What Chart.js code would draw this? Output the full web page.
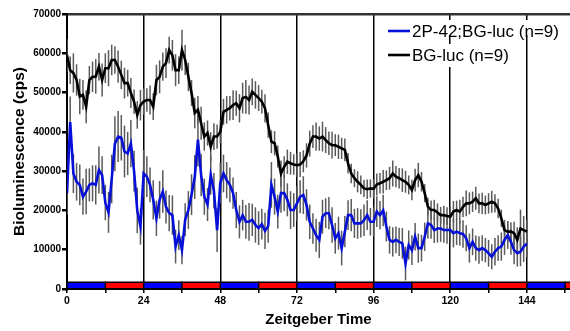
<!DOCTYPE html>
<html>
<head>
<meta charset="utf-8">
<script src="https://cdn.jsdelivr.net/npm/chart.js@4.4.1/dist/chart.umd.min.js"></script>
<style>
html, body { margin: 0; padding: 0; background: #fff; }
#wrap { width: 570px; height: 331px; }
</style>
</head>
<body>
<div id="wrap"><canvas id="c" width="570" height="331"></canvas></div>
<script>
// ===== data: hourly mean + SEM, ZT0 .. ZT144 =====
var blueLabel = "2P-42;BG-luc (n=9)";
var blackLabel = "BG-luc (n=9)";

var blueMean = [
    24400, 42500, 29400, 27300, 26500, 23500, 24800, 26500, 26900, 26500, 30300, 29000,
    22000, 19500, 28000, 37000, 38800, 38500, 35000, 34500, 37000, 30000, 20000, 15900,
    29400, 28600, 26500, 22700, 18000, 22700, 24800, 20900, 19300, 18800, 10800, 13700,
    9900, 17600, 20100, 24000, 28500, 38000, 29000, 23500, 21500, 29000, 25000, 15000,
    27000, 29400, 27700, 26500, 24400, 20100, 17100, 18800, 17100, 17100, 17600, 16300,
    15500, 16500, 14800, 16000, 26500, 23500, 19700, 24400, 24400, 22700, 20100, 20100,
    21800, 23500, 23900, 21400, 17100, 15400, 13700, 12500, 18400, 19300, 19300, 16300,
    12900, 14200, 10400, 14600, 18800, 18800, 16700, 16700, 16700, 17500, 18800, 17100,
    17100, 19700, 18800, 20000, 15900, 12500, 12000, 12500, 12000, 11600, 6500, 11200,
    9900, 13300, 10400, 10400, 13300, 16700, 16300, 15000, 15400, 15400, 15000, 15000,
    15000, 14200, 14600, 14200, 14000, 12900, 10400, 12000, 10400, 9900, 10400, 9900,
    9100, 8200, 9500, 10400, 10800, 12500, 13700, 12000, 9900, 9100, 9500, 10800,
    11500
];
var blueSem = [
    5500, 6500, 5000, 4800, 5200, 4600, 5800, 4200, 4600, 5000, 6000, 4800,
    4500, 5200, 6200, 7000, 6500, 5800, 6600, 5500, 6000, 5200, 5800, 4600,
    6000, 5200, 4400, 5000, 4500, 4800, 5400, 4200, 4600, 5000, 4300, 3800,
    3600, 4200, 4800, 5200, 5600, 6800, 5400, 4600, 4200, 5000, 4500, 5600,
    5200, 4800, 4600, 4400, 4000, 4600, 4200, 3900, 4300, 4800, 4100, 4500,
    4300, 3900, 4600, 4200, 5800, 4600, 4300, 5000, 4600, 4200, 4800, 4300,
    4500, 4200, 4800, 4000, 4400, 3900, 4200, 4600, 4300, 3800, 4100, 4500,
    3900, 4200, 4400, 4000, 3800, 4100, 3700, 3900, 3600, 4000, 3800, 3500,
    3700, 3900, 3600, 4000, 3800, 3500, 3700, 3400, 3600, 3900, 4300, 3700,
    3800, 3500, 3700, 3400, 3600, 3900, 3500, 3300, 3600, 3400, 3200, 3500,
    3300, 3600, 3400, 3200, 3500, 3300, 3700, 3400, 3200, 3500, 3300, 3100,
    3400, 3200, 3500, 3300, 3600, 3800, 3500, 3300, 3600, 3400, 3700, 3900,
    3500
];
var blackMean = [
    59500, 55700, 55000, 53200, 49000, 49400, 46400, 53200, 54000, 54100, 56600, 53200,
    56200, 56200, 58300, 58300, 56600, 54500, 52400, 52400, 49900, 47700, 44300, 46800,
    47700, 48100, 48100, 46400, 53200, 54000, 56600, 57500, 60800, 59500, 55700, 55700,
    60800, 58300, 54000, 49900, 44800, 45600, 42200, 38800, 39700, 36200, 38800, 38800,
    40000, 45100, 45600, 46000, 46800, 47300, 46000, 48600, 48900, 48100, 50200, 49400,
    48600, 47700, 46000, 41700, 37500, 37100, 33700, 29400, 31100, 32400, 32000, 31700,
    31500, 31700, 32500, 34000, 37000, 38800, 38800, 38300, 38800, 37900, 37100, 36600,
    36600, 36200, 35800, 35400, 32000, 29400, 28200, 27300, 26500, 25600, 25400, 25600,
    25500, 26600, 26900, 27300, 27700, 28200, 29400, 28600, 28200, 27700, 27300, 26500,
    25200, 27700, 29000, 27300, 24400, 21000, 20100, 20100, 19500, 18800, 18800, 18600,
    18400, 19700, 20100, 19700, 20900, 21800, 21800, 22200, 23100, 21800, 21800, 21400,
    21800, 22200, 21800, 20500, 18000, 15000, 14600, 14600, 14200, 12500, 15400, 15000,
    14600
];
var blackSem = [
    4200, 3500, 5000, 4000, 4500, 3800, 4200, 3600, 3900, 4400, 3500, 4200,
    3800, 4600, 3900, 3500, 4100, 3600, 3900, 3400, 3800, 3100, 3500, 3900,
    3300, 3000, 3700, 3400, 3900, 4200, 3600, 3800, 3400, 3900, 4100, 3500,
    5200, 3800, 3600, 3300, 3900, 3500, 4200, 3600, 3200, 3700, 3400, 3100,
    2900, 3300, 3500, 3100, 3800, 3200, 3600, 3900, 4300, 3700, 3400, 3500,
    3300, 3000, 3600, 3200, 2900, 3100, 2800, 3300, 2700, 3100, 2900, 2600,
    3000, 3200, 2800, 3100, 3300, 2900, 3600, 3100, 3800, 3300, 3000, 3400,
    2800, 3100, 2700, 2900, 2600, 2500, 2300, 2700, 2400, 2200, 2500, 2300,
    2400, 2800, 2600, 3000, 2500, 2900, 3300, 2700, 2600, 3000, 2800, 2400,
    2600, 2900, 3100, 2500, 2300, 2200, 2400, 2600, 2300, 2100, 2400, 2200,
    2500, 2700, 2400, 3000, 2600, 3300, 2800, 2600, 2900, 2500, 2700, 2400,
    2600, 2800, 2300, 2500, 2200, 2600, 2700, 2400, 2900, 3200, 4800, 3600,
    3000
];

// light/dark bar, 12 h blocks starting at ZT0
var ldBlocks = ['L', 'D', 'L', 'D', 'L', 'D', 'L', 'D', 'L', 'D', 'L', 'D', 'L', 'D'];
var ldHours = 12;

var xMin = 0, xMax = 157.5;
var yMin = 0, yMax = 70000;

function toPoints(arr) {
    return arr.map(function(v, i) { return { x: i, y: v }; });
}

// ===== plugins =====
var errorBars = {
    id: 'errorBars',
    beforeDatasetsDraw: function(chart) {
        var ctx = chart.ctx, xs = chart.scales.x, ys = chart.scales.y, a = chart.chartArea;
        ctx.save();
        ctx.beginPath();
        ctx.rect(a.left, a.top, a.right - a.left, a.bottom - a.top);
        ctx.clip();
        ctx.strokeStyle = '#5a5a5a';
        ctx.lineWidth = 1.5;
        chart.data.datasets.forEach(function(ds) {
            ds.mean.forEach(function(m, i) {
                var x = xs.getPixelForValue(i);
                ctx.beginPath();
                ctx.moveTo(x, ys.getPixelForValue(m - ds.sem[i]));
                ctx.lineTo(x, ys.getPixelForValue(m + ds.sem[i]));
                ctx.stroke();
            });
        });
        ctx.restore();
    }
};

var ldBar = {
    id: 'ldBar',
    afterDatasetsDraw: function(chart) {
        var ctx = chart.ctx, xs = chart.scales.x, a = chart.chartArea;
        var b = a.bottom;
        ctx.save();
        ctx.beginPath();
        ctx.rect(a.left, a.top, a.right - a.left + 2, a.bottom - a.top + 2);
        ctx.clip();
        ldBlocks.forEach(function(p, i) {
            var x0 = xs.getPixelForValue(i * ldHours);
            var x1 = xs.getPixelForValue((i + 1) * ldHours);
            ctx.fillStyle = p === 'L' ? '#0000ff' : '#ff0000';
            ctx.fillRect(x0, b - 6, x1 - x0, 5);
        });
        ctx.fillStyle = '#000';
        ctx.fillRect(a.left, b - 7.5, a.right - a.left, 1.5);
        ldBlocks.forEach(function(p, i) {
            var x0 = xs.getPixelForValue(i * ldHours);
            ctx.fillRect(x0 - 0.75, b - 7.5, 1.5, 7.5);
        });
        ctx.restore();
    }
};

var legendBox = {
    id: 'legendBox',
    afterDraw: function(chart) {
        var ctx = chart.ctx;
        var rows = [{ y: 31, top: 20, h: 15 }, { y: 55, top: 44, h: 23 }];
        ctx.save();
        ctx.font = '17px "Liberation Sans", Arial, sans-serif';
        ctx.textBaseline = 'middle';
        chart.data.datasets.forEach(function(ds, i) {
            var r = rows[i];
            var w = ctx.measureText(ds.label).width;
            ctx.fillStyle = '#fff';
            ctx.fillRect(386, r.top, 412 - 386 + w + 2, r.h);
            ctx.strokeStyle = ds.borderColor;
            ctx.lineWidth = 2.6;
            ctx.beginPath();
            ctx.moveTo(388, r.y);
            ctx.lineTo(410, r.y);
            ctx.stroke();
            ctx.fillStyle = '#000';
            ctx.fillText(ds.label, 412, r.y + 1);
        });
        ctx.restore();
    }
};

// ===== chart =====
var chart = new Chart(document.getElementById('c'), {
    type: 'line',
    data: {
        datasets: [
            { label: blueLabel, data: toPoints(blueMean), mean: blueMean, sem: blueSem,
              borderColor: '#0610d8', borderWidth: 2.6, pointRadius: 0, tension: 0 },
            { label: blackLabel, data: toPoints(blackMean), mean: blackMean, sem: blackSem,
              borderColor: '#000000', borderWidth: 2.6, pointRadius: 0, tension: 0 }
        ]
    },
    options: {
        responsive: false,
        devicePixelRatio: 1,
        animation: false,
        layout: { padding: { top: 14, right: 0, left: 0, bottom: 0 } },
        plugins: { legend: { display: false }, tooltip: { enabled: false } },
        scales: {
            x: {
                type: 'linear',
                min: xMin, max: xMax,
                afterFit: function(s) { s.height = 42; },
                ticks: {
                    stepSize: 12,
                    includeBounds: false,
                    autoSkip: false,
                    maxRotation: 0,
                    padding: 2,
                    color: '#000',
                    font: { family: '"Liberation Sans", Arial, sans-serif', size: 10.5, weight: 'bold' },
                    callback: function(v) { return v % 24 === 0 ? String(v) : ''; }
                },
                grid: {
                    color: function(c) { return c.tick && c.tick.value % 24 === 0 ? '#000' : 'rgba(0,0,0,0)'; },
                    tickColor: '#000',
                    lineWidth: 1.5,
                    tickLength: 4
                },
                border: { color: '#000', width: 2 },
                title: {
                    display: true,
                    text: 'Zeitgeber Time',
                    color: '#000',
                    font: { family: '"Liberation Sans", Arial, sans-serif', size: 15, weight: 'bold' },
                    padding: { top: 0, bottom: 2.5 }
                }
            },
            y: {
                min: yMin, max: yMax,
                afterFit: function(s) { s.width = 67; },
                ticks: {
                    stepSize: 10000,
                    padding: 1,
                    color: '#000',
                    font: { family: '"Liberation Sans", Arial, sans-serif', size: 10, weight: 'bold' },
                    callback: function(v) { return String(v); }
                },
                grid: {
                    color: function(c) { return c.tick && c.tick.value === yMax ? '#333' : 'rgba(0,0,0,0)'; },
                    tickColor: '#000',
                    lineWidth: 2.5,
                    tickLength: 5
                },
                border: { color: '#000', width: 2 },
                title: {
                    display: true,
                    text: 'Bioluminescence (cps)',
                    color: '#000',
                    font: { family: '"Liberation Sans", Arial, sans-serif', size: 15.5, weight: 'bold' },
                    padding: { top: 10, bottom: 0 }
                }
            }
        }
    },
    plugins: [errorBars, ldBar, legendBox]
});
</script>
</body>
</html>
